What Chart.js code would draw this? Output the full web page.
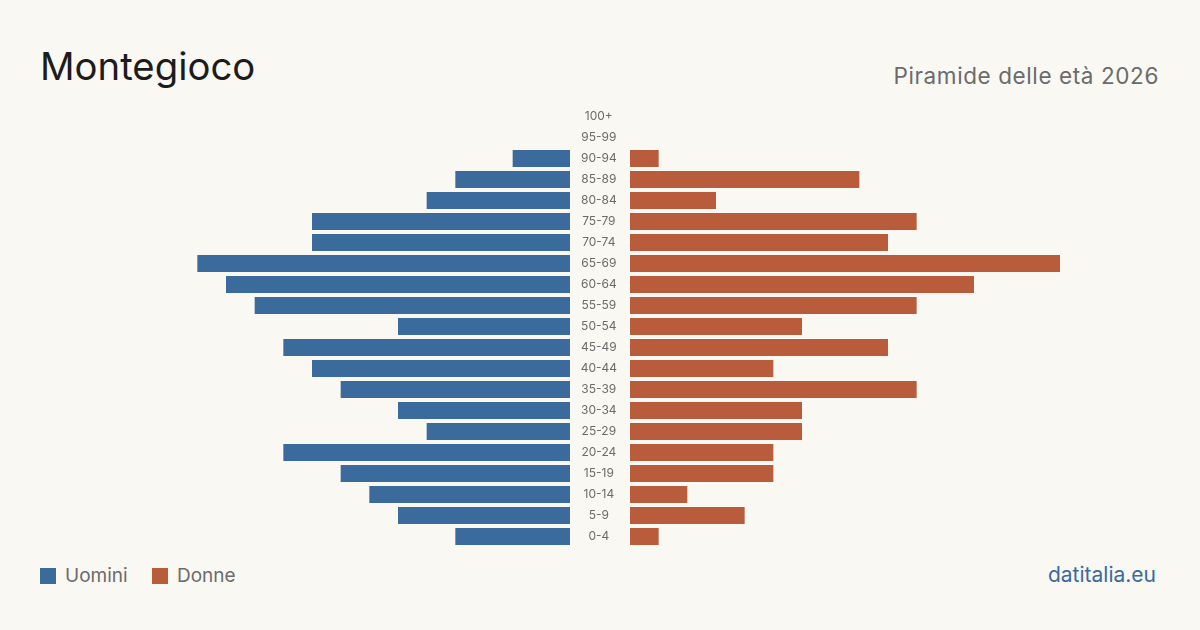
<!DOCTYPE html>
<html>
<head>
<meta charset="utf-8">
<script src="https://cdn.jsdelivr.net/npm/chart.js@4"></script>
<style>
  body { margin: 0; background: #f9f8f3; font-family: Inter, "Noto Sans", sans-serif; }
  #page { position: relative; width: 1200px; height: 630px; overflow: hidden; }
  #title { position: absolute; left: 40px; top: 42px; font-size: 38.3px; color: #1c1c1c; line-height: 48px; }
  #subtitle { position: absolute; right: 41px; top: 62px; font-size: 22.5px; letter-spacing: 0.6px; color: #6b6b6b; line-height: 28px; }
  #legend { position: absolute; left: 40px; top: 564px; font-size: 19px; color: #6b6b6b; line-height: 24px; }
  #legend span.item { display: inline-block; margin-right: 19px; }
  #legend span.box { display: inline-block; width: 16px; height: 16px; vertical-align: -2px; margin-right: 9px; }
  #source { position: absolute; right: 44px; top: 562px; font-size: 21px; color: #3a6a9e; line-height: 26px; }
  canvas { position: absolute; }
</style>
</head>
<body>
<div id="page">
  <div id="title">Montegioco</div>
  <div id="subtitle">Piramide delle età 2026</div>
  <canvas id="menChart" width="430" height="441" style="left:140px; top:106px; width:430px; height:441px;"></canvas>
  <canvas id="womenChart" width="490" height="441" style="left:570px; top:106px; width:490px; height:441px;"></canvas>
  <div id="legend">
    <span class="item"><span class="box" style="background:#3a6b9c"></span>Uomini</span>
    <span class="item"><span class="box" style="background:#b95c3b"></span>Donne</span>
  </div>
  <div id="source">datitalia.eu</div>
</div>
<script>
// age groups, top to bottom
const ageGroups = ['100+', '95-99', '90-94', '85-89', '80-84', '75-79', '70-74', '65-69', '60-64', '55-59',
    '50-54', '45-49', '40-44', '35-39', '30-34', '25-29', '20-24', '15-19', '10-14', '5-9', '0-4'];
const menValues = [0, 0, 2, 4, 5, 9, 9, 13, 12, 11, 6, 10, 9, 8, 6, 5, 10, 8, 7, 6, 4];
const womenValues = [0, 0, 1, 8, 3, 10, 9, 15, 12, 10, 6, 9, 5, 10, 6, 6, 5, 5, 2, 4, 1];
const axisMax = 15;

const blue = '#3a6b9c';
const orange = '#b95c3b';

// common options for both halves
function baseOptions(reverse) {
    return {
        indexAxis: 'y',
        responsive: false,
        animation: false,
        layout: { padding: 0 },
        plugins: { legend: { display: false }, tooltip: { enabled: false } },
        scales: {
            x: { display: false, min: 0, max: axisMax, reverse: reverse },
            y: { display: false }
        }
    };
}

// left half: men
new Chart(document.getElementById('menChart'), {
    type: 'bar',
    data: {
        labels: ageGroups,
        datasets: [{
            label: 'Uomini',
            data: menValues,
            backgroundColor: blue,
            categoryPercentage: 1,
            barPercentage: 0.81
        }]
    },
    options: baseOptions(true)
});

// right half: women, with the age labels on its y axis
const womenOptions = baseOptions(false);
womenOptions.scales.y = {
    display: true,
    position: 'left',
    afterFit: (scale) => {
        scale.width = 60;
        scale.paddingTop = 0;
        scale.paddingBottom = 0;
    },
    grid: { display: false, drawTicks: false },
    border: { display: false },
    ticks: {
        crossAlign: 'center',
        padding: 13,
        autoSkip: false,
        color: '#6b6b6b',
        font: { family: 'Inter', size: 12 }
    }
};

new Chart(document.getElementById('womenChart'), {
    type: 'bar',
    data: {
        labels: ageGroups,
        datasets: [{
            label: 'Donne',
            data: womenValues,
            backgroundColor: orange,
            categoryPercentage: 1,
            barPercentage: 0.81
        }]
    },
    options: womenOptions
});
</script>
</body>
</html>
